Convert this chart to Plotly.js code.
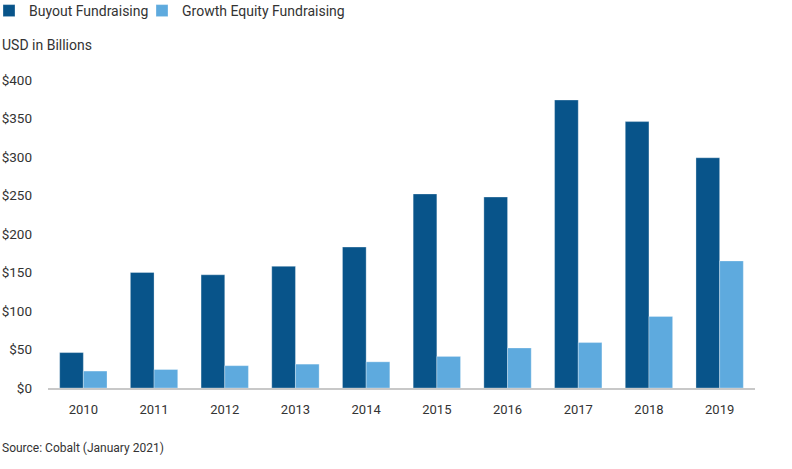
<!DOCTYPE html>
<html>
<head>
<meta charset="utf-8">
<script src="https://cdn.plot.ly/plotly-3.0.1.min.js"></script>
<style>html,body{margin:0;padding:0;background:#fff;}#chart{width:792px;height:469px;}</style>
</head>
<body>
<div id="chart"></div>
<script>
var years = ['2010','2011','2012','2013','2014','2015','2016','2017','2018','2019'];
var buyout = [46, 150, 147, 158, 183, 252, 248, 374, 346, 299];
var growth = [22, 24, 29, 31, 34, 41, 52, 59, 93, 165];
var yTicks = [0, 50, 100, 150, 200, 250, 300, 350, 400];

var data = [
  {type:'bar', name:'Buyout Fundraising', x:years, y:buyout, legend:'legend',
   marker:{color:'#08548a', line:{color:'rgba(255,255,255,0.3)', width:1}}, hoverinfo:'x+y'},
  {type:'bar', name:'Growth Equity Fundraising', x:years, y:growth, legend:'legend2',
   marker:{color:'#5eaade', line:{color:'rgba(255,255,255,0.3)', width:1}}, hoverinfo:'x+y'}
];

var PW = 707, PH = 308, PL = 48, PB = 388;
function px(x){ return (x - PL) / PW; }
function py(y){ return (PB - y) / PH; }

var legendBase = {orientation:'h', xanchor:'left', yanchor:'top', y:py(-5),
  font:{size:14, color:'#333'}, itemwidth:30, bgcolor:'rgba(0,0,0,0)'};

var layout = {
  width:792, height:469,
  margin:{l:48, r:37, t:80, b:81, autoexpand:false},
  paper_bgcolor:'#fff', plot_bgcolor:'#fff',
  font:{family:'Roboto, Arial, sans-serif', size:13, color:'#333'},
  barmode:'group', bargap:0.33, bargroupgap:0,
  showlegend:true,
  legend:Object.assign({}, legendBase, {x:px(-11)}),
  legend2:Object.assign({}, legendBase, {x:px(142)}),
  xaxis:{type:'category', showgrid:false, zeroline:false, showline:true, linecolor:'#c8c8c8', linewidth:2,
         ticks:'', tickfont:{size:13, color:'#333'}, ticklabelstandoff:8, fixedrange:true},
  yaxis:{range:[0,400], autorange:false, showgrid:false, zeroline:false, showline:false,
         tickvals:yTicks, ticktext:yTicks.map(function(v){return '$'+v;}),
         ticks:'', tickfont:{size:13.5, color:'#333'}, ticklabelstandoff:15, fixedrange:true},
  annotations:[
    {text:'USD in Billions', xref:'paper', yref:'paper', x:px(0), y:py(45), xanchor:'left', yanchor:'middle',
     showarrow:false, font:{size:14, color:'#333'}},
    {text:'Source: Cobalt (January 2021)', xref:'paper', yref:'paper', x:px(0), y:py(448), xanchor:'left', yanchor:'middle',
     showarrow:false, font:{size:12, color:'#333'}}
  ]
};

Plotly.newPlot('chart', data, layout, {displayModeBar:false, staticPlot:true});
</script>
</body>
</html>
